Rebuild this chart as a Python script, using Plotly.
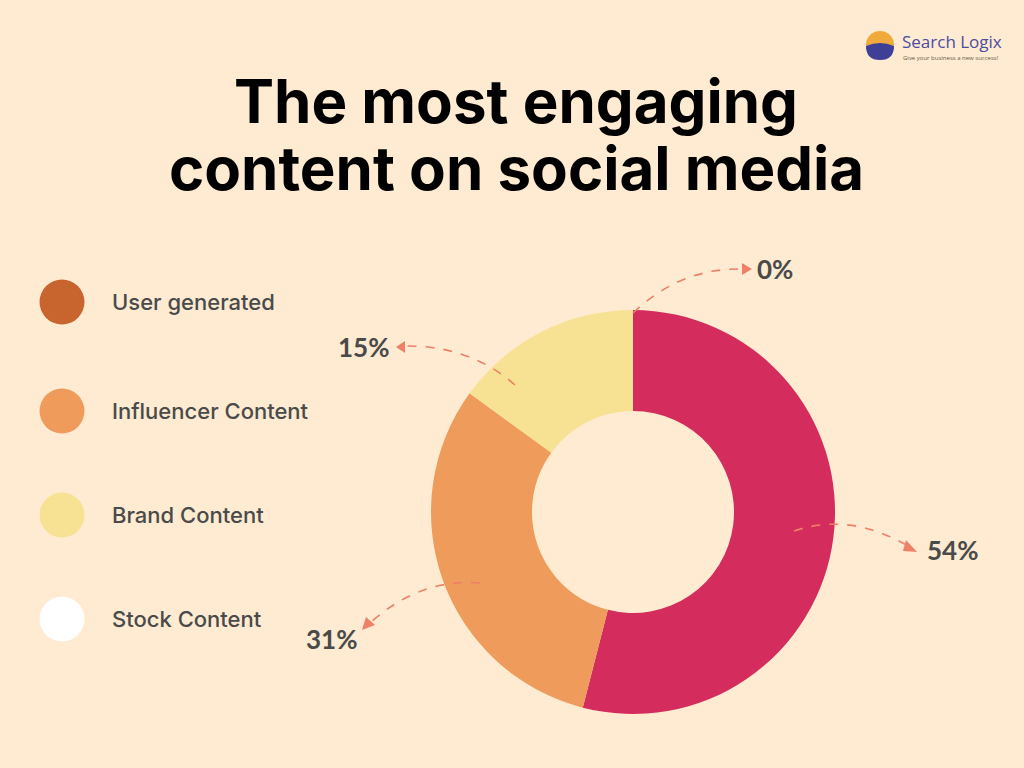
import plotly.graph_objects as go

# ---- data ----
categories = ["User generated", "Influencer Content", "Brand Content", "Stock Content"]
values = [54, 31, 15, 0]
slice_colors = ["#D52C5E", "#EF9B5B", "#F7E294", "#FFFFFF"]
legend_colors = ["#C8652F", "#EF9B5B", "#F7E294", "#FFFFFF"]
title_lines = ["The most engaging", "content on social media"]

W, H = 1024, 768
BG = "#FEEBD1"
ARROW = "#EE8068"
TXT = "#4A4A4A"

fig = go.Figure()

# donut
cx, cy, r = 633, 512, 202
fig.add_trace(go.Pie(
    labels=categories, values=values, hole=0.5, sort=False,
    direction="clockwise", rotation=0,
    marker=dict(colors=slice_colors, line=dict(width=0)),
    textinfo="none", showlegend=False,
    domain=dict(x=[(cx - r) / W, (cx + r) / W], y=[1 - (cy + r) / H, 1 - (cy - r) / H]),
))

# legend markers on a hidden pixel-space axis
leg_y = [302, 411, 515, 619]
fig.add_trace(go.Scatter(
    x=[62] * len(categories), y=leg_y, mode="markers",
    marker=dict(size=45, color=legend_colors, line=dict(width=0)),
    showlegend=False, hoverinfo="text", text=categories,
))
for cat, yy in zip(categories, leg_y):
    fig.add_annotation(x=110, y=yy, text=cat, showarrow=False, xanchor="left", yanchor="middle",
                       font=dict(family="Inter, Open Sans, sans-serif", size=22, color=TXT, weight=500))

# percentage labels with dashed curved arrows
label_pos = [(952, 550), (331, 639), (363, 347), (775, 269)]
arrow_paths = [
    "M 794 531 Q 850 512 908 546",   # 54%
    "M 480 583 Q 420 578 370 623",   # 31%
    "M 515 385 Q 470 345 404 346",   # 15%
    "M 633 313 Q 680 268 742 269",   # 0%
]
arrow_heads = [
    "M 906 540 L 917 552 L 903 551 Z",
    "M 366 617 L 362 630 L 375 625 Z",
    "M 405 341 L 396 347 L 405 353 Z",
    "M 742 263 L 752 269 L 742 275 Z",
]
for v, (lx, ly), p, hd in zip(values, label_pos, arrow_paths, arrow_heads):
    fig.add_annotation(x=lx, y=ly, text=f"<b>{v}%</b>", showarrow=False, xanchor="center", yanchor="middle",
                       font=dict(family="Lato, sans-serif", size=26, color=TXT))
    fig.add_shape(type="path", path=p, xref="x", yref="y",
                  line=dict(color=ARROW, width=1.6, dash="dash"), layer="above")
    fig.add_shape(type="path", path=hd, xref="x", yref="y",
                  line=dict(color=ARROW, width=0), fillcolor=ARROW, layer="above")

# title
for line, yy in zip(title_lines, [101, 168]):
    fig.add_annotation(x=516, y=yy, text=f"<b>{line}</b>", showarrow=False, xanchor="center", yanchor="middle",
                       font=dict(family="Inter, sans-serif", size=60, color="#000000"))

# logo
fig.add_shape(type="circle", x0=866, y0=31, x1=894, y1=59, xref="x", yref="y",
              fillcolor="#F2A93B", line=dict(width=0))
fig.add_shape(type="path", path="M 866 46 Q 880 40 894 46 Q 894 60 880 60 Q 866 60 866 46 Z",
              xref="x", yref="y", fillcolor="#3E3F97", line=dict(width=0))
fig.add_annotation(x=900, y=41, text="Search Logix", showarrow=False, xanchor="left", yanchor="middle",
                   font=dict(family="Open Sans, sans-serif", size=17, color="#4B4DA0"))
fig.add_annotation(x=901, y=58, text="Give your business a new success!", showarrow=False, xanchor="left",
                   yanchor="middle", font=dict(family="Open Sans, sans-serif", size=6, color="#6A5A4A"))

fig.update_layout(
    width=W, height=H, margin=dict(l=0, r=0, t=0, b=0),
    paper_bgcolor=BG, plot_bgcolor="rgba(0,0,0,0)",
    xaxis=dict(range=[0, W], visible=False, fixedrange=True, domain=[0, 1]),
    yaxis=dict(range=[H, 0], visible=False, fixedrange=True, domain=[0, 1]),
)

fig.write_html("out.html", config={"displayModeBar": False},
               post_script="document.body.style.margin='0';document.body.style.overflow='hidden';"
                           "document.body.style.background='" + BG + "';")
